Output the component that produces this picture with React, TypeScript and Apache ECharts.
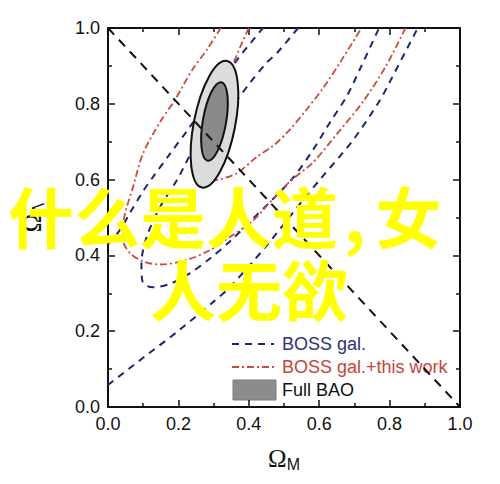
import { useEffect, useRef } from "react";
import * as echarts from "echarts";

// BOSS galaxies alone, 68% and 95% contours (Omega_M, Omega_Lambda)
const bossInner = [
  [0.54, 1.0], [0.48, 0.934], [0.45, 0.908], [0.403, 0.855], [0.366, 0.81],
  [0.3, 0.745], [0.242, 0.678], [0.196, 0.599], [0.148, 0.528], [0.11, 0.449],
  [0.095, 0.38], [0.097, 0.335], [0.11, 0.32], [0.128, 0.316], [0.176, 0.325],
  [0.233, 0.353], [0.29, 0.392], [0.35, 0.44], [0.41, 0.495], [0.47, 0.55],
  [0.526, 0.605], [0.58, 0.675], [0.63, 0.75], [0.68, 0.823], [0.72, 0.9], [0.77, 1.0],
];
const bossOuterUpper = [
  [0.0, 0.43], [0.034, 0.467], [0.0625, 0.512], [0.1, 0.57], [0.128, 0.607],
  [0.176, 0.668], [0.224, 0.728], [0.256, 0.77], [0.31, 0.845], [0.37, 0.92], [0.44, 1.0],
];
const bossOuterLower = [
  [0.0, 0.058], [0.1, 0.13], [0.196, 0.198], [0.3, 0.278], [0.347, 0.317],
  [0.44, 0.414], [0.554, 0.546], [0.602, 0.6], [0.696, 0.704], [0.773, 0.81],
  [0.8, 0.857], [0.88, 1.0],
];

// BOSS galaxies + this work
const comboInner = [
  [0.4, 1.0], [0.384, 0.968], [0.338, 0.87], [0.29, 0.8], [0.26, 0.75],
  [0.242, 0.69], [0.236, 0.645], [0.245, 0.612], [0.27, 0.596], [0.31, 0.599],
  [0.366, 0.617], [0.423, 0.66], [0.47, 0.69], [0.51, 0.725], [0.56, 0.78],
  [0.61, 0.84], [0.66, 0.91], [0.72, 1.0],
];
const comboOuter = [
  [0.32, 1.0], [0.284, 0.947], [0.237, 0.886], [0.19, 0.81], [0.148, 0.752],
  [0.1, 0.67], [0.071, 0.58], [0.045, 0.493], [0.043, 0.44], [0.0625, 0.406],
  [0.1, 0.384], [0.148, 0.376], [0.224, 0.388], [0.29, 0.414], [0.347, 0.449],
  [0.41, 0.49], [0.46, 0.54], [0.517, 0.595], [0.582, 0.645], [0.65, 0.72],
  [0.724, 0.805], [0.79, 0.9], [0.845, 1.0],
];

// flat universe line
const flatLine = [[0.0, 1.0], [1.0, 0.0]];

// Full BAO ellipses: major-axis top (x,y), bottom (x,y), minor-axis end (x,y)
const baoOuter = [0.338, 0.913, 0.267, 0.579, 0.36, 0.735];
const baoInner = [0.322, 0.857, 0.283, 0.65, 0.335, 0.748];

const ticks = [0, 0.2, 0.4, 0.6, 0.8, 1.0];

const legendNames = ["BOSS gal.", "BOSS gal.+this work", "Full BAO"];
const overlayLine1 = ["什么是人道", ",", "女"];
const overlayLine2 = "人无欲";

const BLUE = "#1f2570";
const RED = "#cc4a3c";

function ellipseItem(fill: string) {
  return (_params: any, api: any) => {
    const top = api.coord([api.value(0), api.value(1)]);
    const bot = api.coord([api.value(2), api.value(3)]);
    const side = api.coord([api.value(4), api.value(5)]);
    const dx = top[0] - bot[0];
    const dy = top[1] - bot[1];
    const len = Math.hypot(dx, dy);
    const ry = len / 2;
    const rx = Math.abs(dx * (side[1] - bot[1]) - dy * (side[0] - bot[0])) / len;
    const angle = Math.atan2(dx, -dy);
    return {
      type: "ellipse",
      x: (top[0] + bot[0]) / 2,
      y: (top[1] + bot[1]) / 2,
      rotation: -angle,
      shape: { cx: 0, cy: 0, rx, ry },
      style: { fill, stroke: "#111", lineWidth: 2 },
    };
  };
}

export default function App() {
  const chartRef = useRef<HTMLDivElement>(null);

  useEffect(() => {
    if (!chartRef.current) return;
    const chart = echarts.init(chartRef.current, null, { renderer: "svg" });

    const font = "'Liberation Sans', Arial, sans-serif";
    const cjk = "bold 66px 'Noto Sans CJK SC', sans-serif";
    const baseAxis = {
      type: "value",
      min: 0,
      max: 1,
      interval: 0.2,
      splitLine: { show: false },
      axisLine: { show: true, onZero: false, lineStyle: { color: "#111", width: 2 } },
      axisTick: { show: true, inside: true, length: 7, lineStyle: { color: "#111", width: 1.5 } },
      minorTick: { show: true, splitNumber: 2, length: 4, lineStyle: { color: "#111", width: 1.5 } },
      axisLabel: {
        show: true,
        color: "#111",
        fontSize: 18,
        fontFamily: font,
        margin: 8,
        formatter: (v: number) => (ticks.includes(v) ? v.toFixed(1) : ""),
      },
    };
    const hiddenLabels = { ...baseAxis, axisLabel: { show: false } };

    const lineSeries = (name: string, data: number[][], color: string, dash: number[], width: number, z = 2) => ({
      name,
      type: "line",
      data,
      showSymbol: false,
      symbol: "none",
      smooth: 0.3,
      z,
      lineStyle: { color, width, type: dash },
    });

    const titleRich = {
      o: { fontFamily: "'Liberation Serif', serif", fontSize: 25, color: "#111" },
      s: { fontFamily: font, fontSize: 16, color: "#111", padding: [12, 0, 0, 0] },
    };

    const option = {
      animation: false,
      grid: { left: 108, right: 40, top: 28, bottom: 77 },
      xAxis: [
        {
          ...baseAxis,
          position: "bottom",
          name: "{o|Ω}{s|M}",
          nameLocation: "middle",
          nameGap: 37,
          nameTextStyle: { rich: titleRich },
        },
        { ...hiddenLabels, position: "top" },
      ],
      yAxis: [
        {
          ...baseAxis,
          position: "left",
          name: "{o|Ω}{s|Λ}",
          nameLocation: "middle",
          nameRotate: 90,
          nameGap: 62,
          nameTextStyle: { rich: titleRich },
        },
        { ...hiddenLabels, position: "right" },
      ],
      series: [
        lineSeries(legendNames[0], bossInner, BLUE, [7, 6], 2),
        lineSeries(legendNames[0] + " 95", bossOuterUpper, BLUE, [7, 6], 2),
        lineSeries(legendNames[0] + " 95b", bossOuterLower, BLUE, [7, 6], 2),
        lineSeries(legendNames[1], comboInner, RED, [7, 3, 2, 3], 1.8),
        lineSeries(legendNames[1] + " 95", comboOuter, RED, [7, 3, 2, 3], 1.8),
        {
          type: "custom",
          name: legendNames[2],
          renderItem: ellipseItem("#dcdcdc"),
          data: [baoOuter],
          encode: { x: [0, 2, 4], y: [1, 3, 5] },
          z: 3,
        },
        {
          type: "custom",
          name: legendNames[2] + " 68",
          renderItem: ellipseItem("#8a8a8a"),
          data: [baoInner],
          encode: { x: [0, 2, 4], y: [1, 3, 5] },
          z: 4,
        },
        {
          ...lineSeries("flat", flatLine, "#111", [9, 7], 2, 5),
          smooth: false,
        },
      ],
      graphic: [
        {
          type: "line",
          shape: { x1: 232, y1: 344, x2: 274, y2: 344 },
          style: { stroke: BLUE, lineWidth: 2, lineDash: [7, 6] },
        },
        {
          type: "text",
          x: 282,
          y: 344,
          style: { text: legendNames[0], fill: "#2b3378", font: `18px ${font}`, textVerticalAlign: "middle" },
        },
        {
          type: "line",
          shape: { x1: 232, y1: 367, x2: 274, y2: 367 },
          style: { stroke: RED, lineWidth: 2, lineDash: [7, 3, 2, 3] },
        },
        {
          type: "text",
          x: 282,
          y: 367,
          style: { text: legendNames[1], fill: "#c4443a", font: `18px ${font}`, textVerticalAlign: "middle" },
        },
        {
          type: "rect",
          shape: { x: 233, y: 380, width: 43, height: 20 },
          style: { fill: "#8c8c8c", stroke: "#7a7a7a", lineWidth: 1 },
        },
        {
          type: "text",
          x: 282,
          y: 390,
          style: { text: legendNames[2], fill: "#111", font: `18px ${font}`, textVerticalAlign: "middle" },
        },
        {
          type: "text",
          x: 8,
          y: 214,
          z: 100,
          style: {
            text: `{a|${overlayLine1[0]}}{c|${overlayLine1[1]}}{a|${overlayLine1[2]}}`,
            textVerticalAlign: "middle",
            rich: {
              a: { fill: "#ffff00", font: cjk },
              c: { fill: "#ffff00", font: cjk, padding: [0, 10, 0, 6] },
            },
          },
        },
        {
          type: "text",
          x: 150,
          y: 287,
          z: 100,
          style: {
            text: overlayLine2,
            fill: "#ffff00",
            font: cjk,
            textVerticalAlign: "middle",
          },
        },
      ],
    };

    chart.setOption(option);
    return () => {
      chart.dispose();
    };
  }, []);

  return (
    <div
      ref={chartRef}
      style={{ position: "fixed", left: 0, top: 0, width: 500, height: 484, background: "#fff" }}
    />
  );
}
